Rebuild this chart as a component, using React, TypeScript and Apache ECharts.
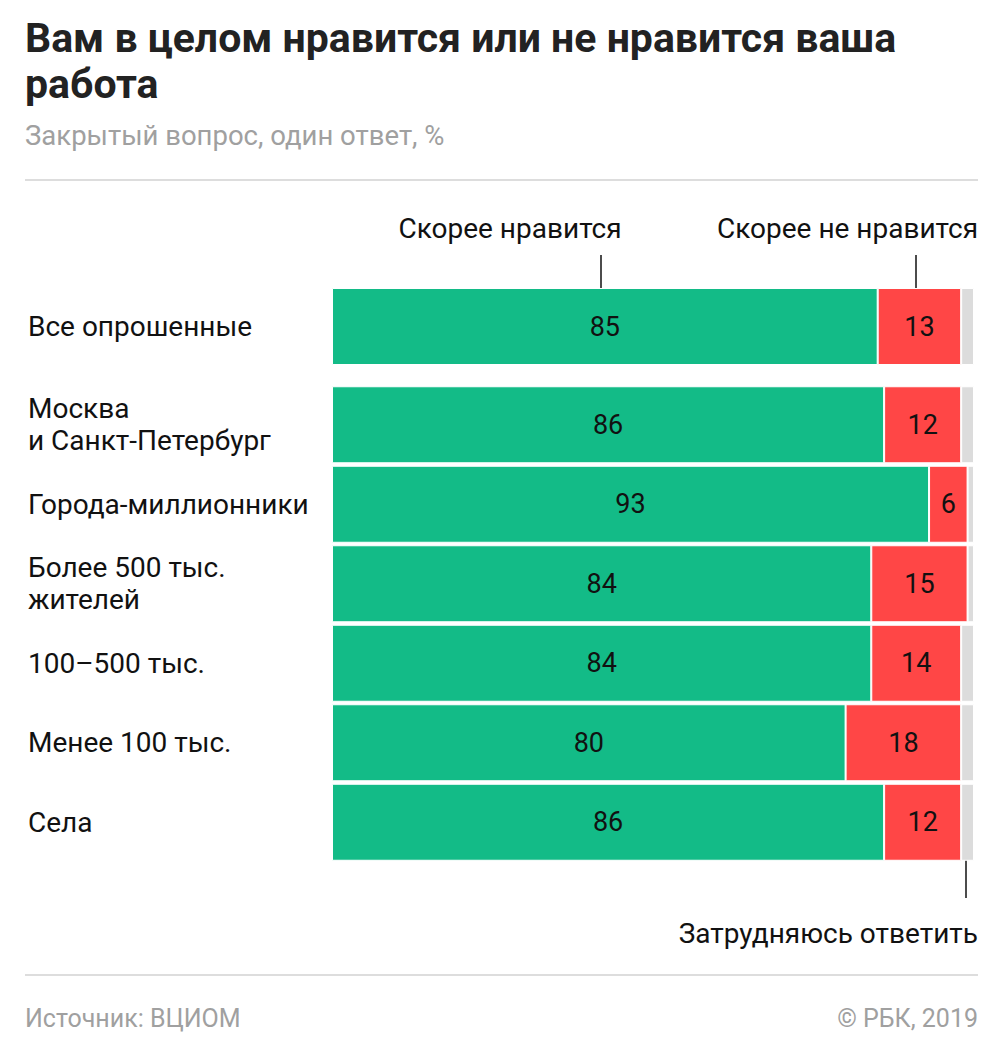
import React, { useEffect, useRef } from "react";
import * as echarts from "echarts";

const totalCategory = ["Все опрошенные"];
const totalLike = [85];
const totalDislike = [13];
const totalHard = [2];

const groupCategories = [
  "Москва\nи Санкт-Петербург",
  "Города-миллионники",
  "Более 500 тыс.\nжителей",
  "100–500 тыс.",
  "Менее 100 тыс.",
  "Села",
];
const groupLike = [86, 93, 84, 84, 80, 86];
const groupDislike = [12, 6, 15, 14, 18, 12];
const groupHard = [2, 1, 1, 2, 2, 2];

const FONT = "Roboto, 'Noto Sans', sans-serif";
const GREEN = "#13bb87";
const RED = "#ff4646";
const GREY = "#dcdcdc";

export default function App() {
  const ref = useRef<HTMLDivElement>(null);
  useEffect(() => {
    document.body.style.margin = "0";
    const chart = echarts.init(ref.current!, null, { renderer: "svg" });
    const label = {
      show: true,
      position: "inside",
      color: "#111",
      fontSize: 27,
      fontFamily: FONT,
    };
    const mkSeries = (idx: number, like: number[], dis: number[], hard: number[], bw: number) => [
      {
        type: "bar",
        xAxisIndex: idx,
        yAxisIndex: idx,
        stack: "s" + idx,
        data: like,
        barWidth: bw,
        itemStyle: { color: GREEN, borderColor: "#fff", borderWidth: 1 },
        label,
      },
      {
        type: "bar",
        xAxisIndex: idx,
        yAxisIndex: idx,
        stack: "s" + idx,
        data: dis,
        barWidth: bw,
        itemStyle: { color: RED, borderColor: "#fff", borderWidth: 1 },
        label,
      },
      {
        type: "bar",
        xAxisIndex: idx,
        yAxisIndex: idx,
        stack: "s" + idx,
        data: hard,
        barWidth: bw,
        itemStyle: { color: GREY, borderColor: "#fff", borderWidth: 1 },
        label: { show: false },
      },
    ];
    const xAxis = (gi: number) => ({
      type: "value",
      gridIndex: gi,
      min: 0,
      max: 100,
      show: false,
    });
    const yAxis = (gi: number, cats: string[]) => ({
      type: "category",
      gridIndex: gi,
      data: cats,
      inverse: true,
      axisLine: { show: false },
      axisTick: { show: false },
      axisLabel: {
        align: "left",
        margin: 304,
        fontSize: 28,
        lineHeight: 32,
        color: "#111",
        fontFamily: FONT,
      },
    });
    chart.setOption({
      animation: false,
      backgroundColor: "#fff",
      grid: [
        { left: 332, right: 31, top: 288, height: 77 },
        { left: 332, right: 31, top: 385, height: 477 },
      ],
      xAxis: [xAxis(0), xAxis(1)],
      yAxis: [yAxis(0, totalCategory), yAxis(1, groupCategories)],
      series: [
        ...mkSeries(0, totalLike, totalDislike, totalHard, 77),
        ...mkSeries(1, groupLike, groupDislike, groupHard, 77),
      ],
      graphic: [
        {
          type: "text",
          left: 25,
          top: 15,
          style: {
            text: "Вам в целом нравится или не нравится ваша\nработа",
            fontSize: 41,
            fontWeight: "bold",
            lineHeight: 46,
            fill: "#222",
            fontFamily: FONT,
          },
        },
        {
          type: "text",
          left: 25,
          top: 121,
          style: {
            text: "Закрытый вопрос, один ответ, %",
            fontSize: 27.5,
            fill: "#a0a0a0",
            fontFamily: FONT,
          },
        },
        { type: "line", shape: { x1: 25, y1: 180, x2: 978, y2: 180 }, style: { stroke: "#dddddd", lineWidth: 2 } },
        { type: "line", shape: { x1: 25, y1: 975, x2: 978, y2: 975 }, style: { stroke: "#dddddd", lineWidth: 2 } },
        {
          type: "text",
          x: 510,
          y: 228,
          style: {
            text: "Скорее нравится",
            fontSize: 28,
            fill: "#111",
            align: "center",
            verticalAlign: "middle",
            fontFamily: FONT,
          },
        },
        { type: "line", shape: { x1: 601, y1: 255, x2: 601, y2: 300 }, style: { stroke: "#111", lineWidth: 1.5 } },
        {
          type: "text",
          x: 978,
          y: 228,
          style: {
            text: "Скорее не нравится",
            fontSize: 28,
            fill: "#111",
            align: "right",
            verticalAlign: "middle",
            fontFamily: FONT,
          },
        },
        { type: "line", shape: { x1: 916, y1: 255, x2: 916, y2: 300 }, style: { stroke: "#111", lineWidth: 1.5 } },
        {
          type: "text",
          x: 978,
          y: 933,
          style: {
            text: "Затрудняюсь ответить",
            fontSize: 28,
            fill: "#111",
            align: "right",
            verticalAlign: "middle",
            fontFamily: FONT,
          },
        },
        { type: "line", shape: { x1: 966, y1: 847, x2: 966, y2: 898 }, style: { stroke: "#111", lineWidth: 1.5 } },
        {
          type: "text",
          x: 25,
          y: 1018,
          style: {
            text: "Источник: ВЦИОМ",
            fontSize: 25,
            fill: "#a0a0a0",
            verticalAlign: "middle",
            fontFamily: FONT,
          },
        },
        {
          type: "text",
          x: 978,
          y: 1018,
          style: {
            text: "© РБК, 2019",
            fontSize: 25,
            fill: "#a0a0a0",
            align: "right",
            verticalAlign: "middle",
            fontFamily: FONT,
          },
        },
      ],
    });
    return () => chart.dispose();
  }, []);
  return <div ref={ref} style={{ width: 1005, height: 1056 }} />;
}
